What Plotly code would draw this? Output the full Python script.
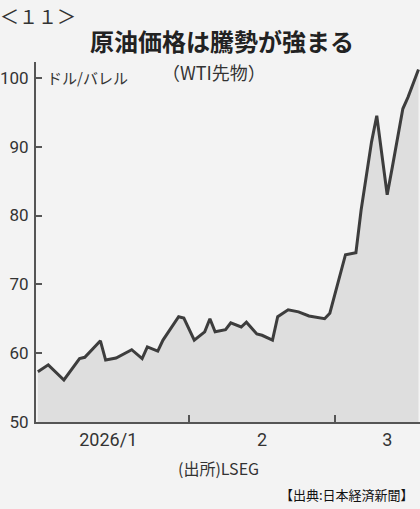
import plotly.graph_objects as go

# WTI futures, USD/barrel
dates = [
    "2026-01-03", "2026-01-05", "2026-01-08", "2026-01-11", "2026-01-12",
    "2026-01-14", "2026-01-15", "2026-01-16", "2026-01-18", "2026-01-21",
    "2026-01-23", "2026-01-24", "2026-01-26", "2026-01-27", "2026-01-28",
    "2026-01-30", "2026-01-31", "2026-02-02", "2026-02-04", "2026-02-05",
    "2026-02-06", "2026-02-08", "2026-02-09", "2026-02-11", "2026-02-12",
    "2026-02-14", "2026-02-15", "2026-02-17", "2026-02-18", "2026-02-20",
    "2026-02-22", "2026-02-24", "2026-02-27", "2026-02-28", "2026-03-03",
    "2026-03-05", "2026-03-06", "2026-03-08", "2026-03-09", "2026-03-10",
    "2026-03-11", "2026-03-12", "2026-03-14", "2026-03-15", "2026-03-17",
]
prices = [
    57.3, 58.3, 56.1, 59.2, 59.4,
    61.0, 61.8, 59.0, 59.3, 60.5,
    59.2, 60.9, 60.3, 61.9, 63.1,
    65.3, 65.1, 61.9, 63.1, 65.0,
    63.1, 63.4, 64.4, 63.8, 64.5,
    62.8, 62.6, 61.9, 65.3, 66.3,
    66.0, 65.4, 65.0, 65.8, 74.3,
    74.6, 80.8, 90.7, 94.5, 88.5,
    83.0, 87.1, 95.5, 97.2, 101.2,
]

y_ticks = [50, 60, 70, 80, 90, 100]
x_label_pos = ["2026-01-16 12:00", "2026-02-15", "2026-03-11"]
x_label_text = ["2026/1", "2", "3"]
month_marks = ["2026-02-01", "2026-03-01"]

title = "原油価格は騰勢が強まる"
subtitle = "（WTI先物）"
unit = "ドル/バレル"
source = "(出所)LSEG"
credit = "【出典:日本経済新聞】"
page_no = "＜１１＞"

NUM_FONT = "Roboto, Liberation Sans Narrow, sans-serif"
JP_FONT = "Noto Sans CJK JP, sans-serif"
BG = "#f3f3f3"
INK = "#333333"

fig = go.Figure()
fig.add_trace(go.Scatter(
    x=dates, y=prices, mode="lines",
    line=dict(color="#3d3d3d", width=3),
    fill="tozeroy", fillcolor="#dedede",
    hoverinfo="skip", showlegend=False,
))

fig.update_layout(
    width=420, height=509,
    margin=dict(l=36, r=0, t=62, b=87),
    paper_bgcolor=BG, plot_bgcolor=BG,
    showlegend=False,
    xaxis=dict(
        type="date", automargin=False,
        range=["2026-01-02 15:30", "2026-03-17 07:00"],
        tickvals=x_label_pos, ticktext=x_label_text,
        ticks="", showgrid=False, zeroline=False,
        showline=True, linecolor="#555555", linewidth=2,
        tickfont=dict(family=NUM_FONT, size=18, color=INK),
        minor=dict(tickvals=month_marks, ticks="inside", ticklen=7,
                   tickwidth=1.5, tickcolor="#555555", showgrid=False),
    ),
    yaxis=dict(
        range=[50, 102.3], automargin=False,
        tickvals=y_ticks,
        ticks="inside", ticklen=6, tickwidth=1.5, tickcolor="#555555",
        showgrid=False, zeroline=False,
        showline=True, linecolor="#555555", linewidth=2,
        tickfont=dict(family=NUM_FONT, size=17, color=INK),
        ticklabelstandoff=2,
    ),
)

fig.add_annotation(text=page_no, x=0, y=1, xref="paper", yref="paper",
                   xanchor="left", yanchor="top", showarrow=False,
                   xshift=-38, yshift=62,
                   font=dict(family=JP_FONT, size=19, color=INK))
fig.add_annotation(text=title, x=0.5, y=1.0, xref="paper", yref="paper",
                   xanchor="center", yanchor="middle", showarrow=False,
                   xshift=-6, yshift=22,
                   font=dict(family=JP_FONT, size=24, color="#222222",
                             weight="bold"))
fig.add_annotation(text=subtitle, x=0.5, y=1.0, xref="paper", yref="paper",
                   xanchor="center", yanchor="middle", showarrow=False,
                   xshift=-14, yshift=-10,
                   font=dict(family=JP_FONT, size=18, color=INK))
fig.add_annotation(text=unit, x=0, y=100, xref="paper", yref="y",
                   xanchor="left", yanchor="middle", showarrow=False,
                   xshift=9,
                   font=dict(family=JP_FONT, size=15, color=INK))
fig.add_annotation(text=source, x=0.5, y=0, xref="paper", yref="paper",
                   xanchor="center", yanchor="middle", showarrow=False,
                   xshift=-10, yshift=-46,
                   font=dict(family=JP_FONT, size=16, color=INK))
fig.add_annotation(text=credit, x=1, y=0, xref="paper", yref="paper",
                   xanchor="right", yanchor="middle", showarrow=False,
                   xshift=-4, yshift=-72,
                   font=dict(family=JP_FONT, size=13, color="#111111"))

fig.write_html("out.html", config={"displayModeBar": False},
               post_script="document.body.style.margin='0';document.body.style.background='#f3f3f3';")
